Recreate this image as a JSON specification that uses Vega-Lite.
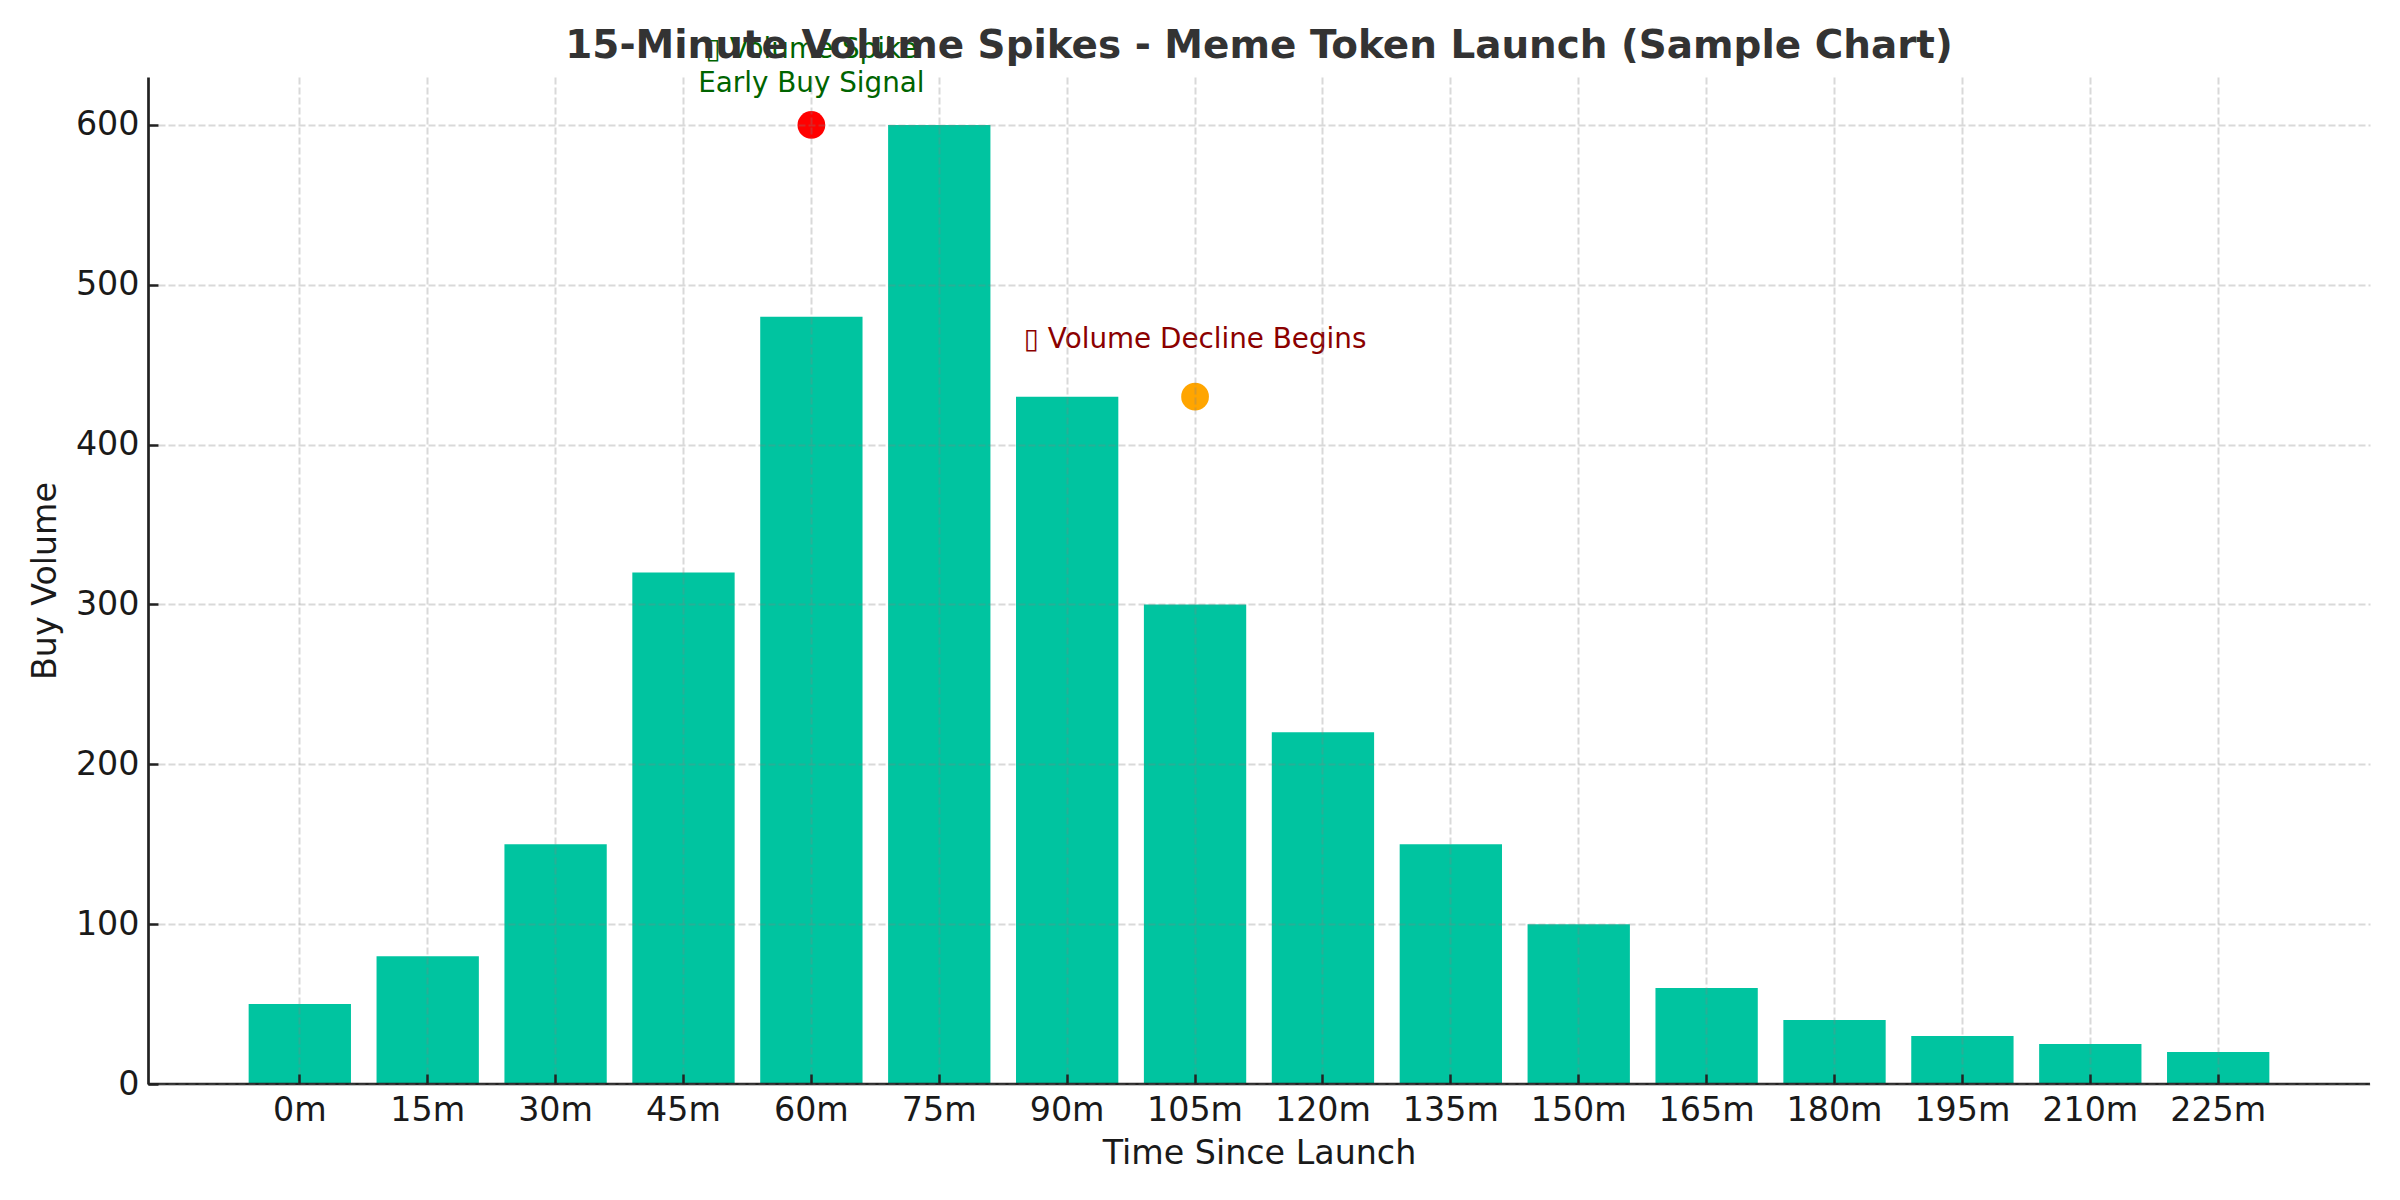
{
  "$schema": "https://vega.github.io/schema/vega-lite/v6.json",
  "width": 2222,
  "height": 1007,
  "autosize": "none",
  "padding": {"left": 148, "top": 77, "right": 30, "bottom": 116},
  "background": "white",
  "config": {
    "font": "DejaVu Sans",
    "view": {"stroke": null}
  },
  "title": {
    "text": "15-Minute Volume Spikes - Meme Token Launch (Sample Chart)",
    "anchor": "middle",
    "frame": "group",
    "fontSize": 38.9,
    "fontWeight": "bold",
    "color": "#333333",
    "offset": -30
  },
  "datasets": {
    "volume": [
      {"time": "0m", "buy": 50},
      {"time": "15m", "buy": 80},
      {"time": "30m", "buy": 150},
      {"time": "45m", "buy": 320},
      {"time": "60m", "buy": 480},
      {"time": "75m", "buy": 600},
      {"time": "90m", "buy": 430},
      {"time": "105m", "buy": 300},
      {"time": "120m", "buy": 220},
      {"time": "135m", "buy": 150},
      {"time": "150m", "buy": 100},
      {"time": "165m", "buy": 60},
      {"time": "180m", "buy": 40},
      {"time": "195m", "buy": 30},
      {"time": "210m", "buy": 25},
      {"time": "225m", "buy": 20}
    ],
    "notes": [
      {"time": "60m", "buy": 600, "tag": "spike", "label_y": 638, "label": "▯ Volume Spike\nEarly Buy Signal"},
      {"time": "105m", "buy": 430, "tag": "decline", "label_y": 457, "label": "▯ Volume Decline Begins"}
    ]
  },
  "encoding": {
    "x": {
      "field": "time",
      "type": "ordinal",
      "sort": null,
      "title": "Time Since Launch",
      "scale": {"type": "band", "paddingInner": 0.2, "paddingOuter": 0.787, "round": false},
      "axis": {
        "zindex": 1,
        "labelAngle": 0,
        "labelFontSize": 33.3,
        "labelColor": "#1a1a1a",
        "labelPadding": 20,
        "titleFontSize": 33.3,
        "titleFontWeight": "normal",
        "titleColor": "#1a1a1a",
        "titlePadding": 11,
        "domain": false,
        "tickColor": "#222222",
        "tickWidth": 2.5,
        "tickSize": -10,
        "grid": true,
        "gridColor": "gray",
        "gridOpacity": 0.3,
        "gridWidth": 2,
        "gridDash": [7, 3]
      }
    },
    "y": {
      "field": "buy",
      "type": "quantitative",
      "title": "Buy Volume",
      "scale": {"domain": [0, 630], "nice": false},
      "axis": {
        "zindex": 1,
        "values": [0, 100, 200, 300, 400, 500, 600],
        "labelFontSize": 33.3,
        "labelColor": "#1a1a1a",
        "labelPadding": 19,
        "titleFontSize": 33.3,
        "titleFontWeight": "normal",
        "titleColor": "#1a1a1a",
        "titlePadding": 13,
        "domainColor": "#222222",
        "domainWidth": 2.7,
        "tickColor": "#222222",
        "tickWidth": 2.5,
        "tickSize": -10,
        "grid": true,
        "gridColor": "gray",
        "gridOpacity": 0.3,
        "gridWidth": 2,
        "gridDash": [7, 3]
      }
    }
  },
  "layer": [
    {
      "data": {"name": "volume"},
      "mark": {"type": "bar", "color": "#00C4A0"}
    },
    {
      "data": {"values": [{"buy": 0}]},
      "mark": {"type": "rule", "color": "#222222", "strokeWidth": 2.7},
      "encoding": {"x": null}
    },
    {
      "data": {"name": "notes"},
      "mark": {"type": "point", "filled": true, "opacity": 1, "size": 770},
      "encoding": {
        "color": {
          "field": "tag",
          "type": "nominal",
          "legend": null,
          "scale": {"domain": ["spike", "decline"], "range": ["#FF0000", "#FFA500"]}
        }
      }
    },
    {
      "data": {"name": "notes"},
      "mark": {"type": "text", "fontSize": 27.8, "baseline": "bottom", "lineBreak": "\n", "lineHeight": 34},
      "encoding": {
        "y": {"field": "label_y", "type": "quantitative"},
        "text": {"field": "label"},
        "color": {
          "field": "tag",
          "type": "nominal",
          "legend": null,
          "scale": {"domain": ["spike", "decline"], "range": ["#006400", "#8B0000"]}
        }
      }
    }
  ],
  "resolve": {"scale": {"color": "independent"}}
}
